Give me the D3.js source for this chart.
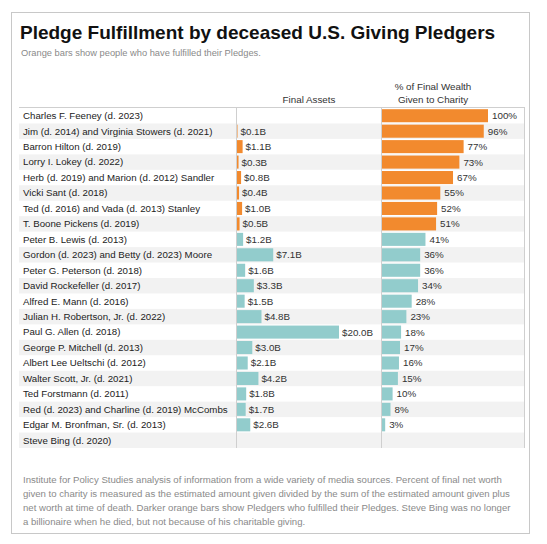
<!DOCTYPE html>
<html lang="en">
<head>
  <meta charset="UTF-8" />
  <title>Pledge Fulfillment by deceased U.S. Giving Pledgers</title>
  <script src="https://d3js.org/d3.v7.min.js"></script>
  <style>
    body {
      margin: 0;
      padding: 0;
      background: #fff;
      font-family: "Liberation Sans", Arial, sans-serif;
    }
    .frame { fill: none; stroke: #c8c8c8; stroke-width: 1; }
    .title { font-size: 19px; font-weight: bold; fill: #111; }
    .subtitle { font-size: 9.3px; fill: #8a8a8a; }
    .head { font-size: 9.8px; fill: #333; }
    .name { font-size: 9.7px; fill: #222; }
    .val { font-size: 9.8px; fill: #333; }
    .rule { stroke: #cfcfcf; stroke-width: 1; }
    .note { font-size: 9.6px; fill: #8a8a8a; }
  </style>
</head>
<body>
  <svg width="547" height="544"></svg>

  <script>
    // data
    const names = [
      "Charles F. Feeney (d. 2023)",
      "Jim (d. 2014) and Virginia Stowers (d. 2021)",
      "Barron Hilton (d. 2019)",
      "Lorry I. Lokey (d. 2022)",
      "Herb (d. 2019) and Marion (d. 2012) Sandler",
      "Vicki Sant (d. 2018)",
      "Ted (d. 2016) and Vada (d. 2013) Stanley",
      "T. Boone Pickens (d. 2019)",
      "Peter B. Lewis (d. 2013)",
      "Gordon (d. 2023) and Betty (d. 2023) Moore",
      "Peter G. Peterson (d. 2018)",
      "David Rockefeller (d. 2017)",
      "Alfred E. Mann (d. 2016)",
      "Julian H. Robertson, Jr. (d. 2022)",
      "Paul G. Allen (d. 2018)",
      "George P. Mitchell (d. 2013)",
      "Albert Lee Ueltschi (d. 2012)",
      "Walter Scott, Jr. (d. 2021)",
      "Ted Forstmann (d. 2011)",
      "Red (d. 2023) and Charline (d. 2019) McCombs",
      "Edgar M. Bronfman, Sr. (d. 2013)",
      "Steve Bing (d. 2020)"
    ];
    // final assets, billions of dollars (null = no value shown)
    const assets = [null, 0.1, 1.1, 0.3, 0.8, 0.4, 1.0, 0.5, 1.2, 7.1, 1.6,
                    3.3, 1.5, 4.8, 20.0, 3.0, 2.1, 4.2, 1.8, 1.7, 2.6, null];
    // % of final wealth given to charity
    const given = [100, 96, 77, 73, 67, 55, 52, 51, 41, 36, 36,
                   34, 28, 23, 18, 17, 16, 15, 10, 8, 3, null];
    // true = fulfilled the Pledge (orange)
    const fulfilled = names.map((d, i) => i < 8);

    const footnote = [
      "Institute for Policy Studies analysis of information from a wide variety of media sources. Percent of final net worth",
      "given to charity is measured as the estimated amount given divided by the sum of the estimated amount given plus",
      "net worth at time of death. Darker orange bars show Pledgers who fulfilled their Pledges. Steve Bing was no longer",
      "a billionaire when he died, but not because of his charitable giving."
    ];

    const orange = "#f28a2e";
    const teal = "#92cccc";

    const rows = names.map((n, i) => ({
      name: n, assets: assets[i], given: given[i], done: fulfilled[i], i
    }));

    const svg = d3.select("svg");

    // outer frame
    svg.append("rect").attr("class", "frame")
      .attr("x", 11.5).attr("y", 12.5).attr("width", 518).attr("height", 521);

    svg.append("text").attr("class", "title")
      .attr("x", 20).attr("y", 39)
      .text("Pledge Fulfillment by deceased U.S. Giving Pledgers");

    svg.append("text").attr("class", "subtitle")
      .attr("x", 21).attr("y", 56)
      .text("Orange bars show people who have fulfilled their Pledges.");

    const left = 19, right = 525;
    const colA = 237, colB = 382;

    const y = d3.scaleBand()
      .domain(names)
      .range([108, 448]);

    const xA = d3.scaleLinear().domain([0, 20]).range([colA, colA + 102]);
    const xB = d3.scaleLinear().domain([0, 100]).range([colB, colB + 106]);

    // headers
    svg.append("text").attr("class", "head")
      .attr("x", 309).attr("y", 103).attr("text-anchor", "middle")
      .text("Final Assets");
    svg.append("text").attr("class", "head")
      .attr("x", 433).attr("y", 90).attr("text-anchor", "middle")
      .text("% of Final Wealth");
    svg.append("text").attr("class", "head")
      .attr("x", 433).attr("y", 103).attr("text-anchor", "middle")
      .text("Given to Charity");

    // striped rows
    svg.selectAll(".stripe")
      .data(rows.filter(d => d.i % 2 === 1))
      .enter()
      .append("rect")
      .attr("class", "stripe")
      .attr("x", left)
      .attr("y", d => y(d.name))
      .attr("width", right - left)
      .attr("height", y.bandwidth())
      .attr("fill", "#f2f2f2");

    // names
    svg.selectAll(".name")
      .data(rows)
      .enter()
      .append("text")
      .attr("class", "name")
      .attr("x", 23)
      .attr("y", d => y(d.name) + y.bandwidth() / 2)
      .attr("dy", "0.35em")
      .text(d => d.name);

    const bh = y.bandwidth() - 2.4;

    // asset bars
    const withAssets = rows.filter(d => d.assets != null);
    svg.selectAll(".barA")
      .data(withAssets)
      .enter()
      .append("rect")
      .attr("class", "barA")
      .attr("x", xA(0))
      .attr("y", d => y(d.name) + 1.2)
      .attr("width", d => xA(d.assets) - xA(0))
      .attr("height", bh)
      .attr("fill", d => d.done ? orange : teal);

    svg.selectAll(".valA")
      .data(withAssets)
      .enter()
      .append("text")
      .attr("class", "val")
      .attr("x", d => xA(d.assets) + 3)
      .attr("y", d => y(d.name) + y.bandwidth() / 2)
      .attr("dy", "0.35em")
      .text(d => "$" + d3.format(".1f")(d.assets) + "B");

    // percent bars
    const withGiven = rows.filter(d => d.given != null);
    svg.selectAll(".barB")
      .data(withGiven)
      .enter()
      .append("rect")
      .attr("class", "barB")
      .attr("x", xB(0))
      .attr("y", d => y(d.name) + 1.2)
      .attr("width", d => xB(d.given) - xB(0))
      .attr("height", bh)
      .attr("fill", d => d.done ? orange : teal);

    svg.selectAll(".valB")
      .data(withGiven)
      .enter()
      .append("text")
      .attr("class", "val")
      .attr("x", d => xB(d.given) + 4)
      .attr("y", d => y(d.name) + y.bandwidth() / 2)
      .attr("dy", "0.35em")
      .text(d => d.given + "%");

    // table rules
    svg.append("line").attr("class", "rule")
      .attr("x1", left).attr("x2", right).attr("y1", 107.5).attr("y2", 107.5);
    [colA, colB, right].forEach(x => {
      svg.append("line").attr("class", "rule")
        .attr("x1", x - 0.5).attr("x2", x - 0.5)
        .attr("y1", 108).attr("y2", 448);
    });

    // footnote
    svg.append("text").attr("class", "note")
      .selectAll("tspan")
      .data(footnote)
      .enter()
      .append("tspan")
      .attr("x", 23)
      .attr("y", (d, i) => 483 + i * 14)
      .text(d => d);
  </script>
</body>
</html>
